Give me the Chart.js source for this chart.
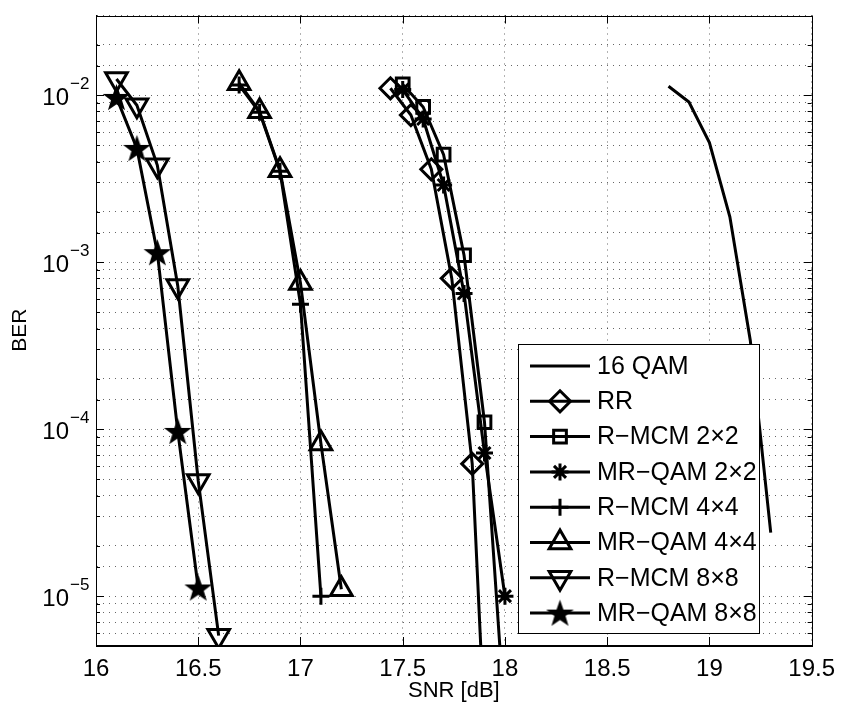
<!DOCTYPE html>
<html>
<head>
<meta charset="utf-8">
<script src="https://cdn.jsdelivr.net/npm/chart.js@4.4.1/dist/chart.umd.min.js"></script>
<style>
html, body { margin: 0; padding: 0; background: #fff; }
#wrap { width: 845px; height: 704px; position: relative; }
</style>
</head>
<body>
<div id="wrap"><canvas id="berChart"></canvas></div>
<script>
// values (SNR in dB, BER)
var snrQam = [18.8, 18.9, 19.0, 19.1, 19.2, 19.3];
var berQam = [1.13e-2, 9.1e-3, 5.2e-3, 1.87e-3, 3.4e-4, 2.4e-5];

var snrRR = [17.44, 17.54, 17.64, 17.74, 17.84, 17.94];
var berRR = [1.1e-2, 7.6e-3, 3.6e-3, 8.0e-4, 6.2e-5, 1.5e-7];

var snr2 = [17.5, 17.6, 17.7, 17.8, 17.9, 18.0];
var berRmcm2 = [1.16e-2, 8.5e-3, 4.4e-3, 1.1e-3, 1.1e-4, 1.8e-6];
var berMrqam2 = [1.08e-2, 7.2e-3, 2.9e-3, 6.5e-4, 7.2e-5, 1.0e-5];

var snrRmcm4 = [16.7, 16.8, 16.9, 17.0, 17.1];
var berRmcm4 = [1.15e-2, 7.9e-3, 3.5e-3, 5.6e-4, 1.0e-5];
var snrMrqam4 = [16.7, 16.8, 16.9, 17.0, 17.1, 17.2];
var berMrqam4 = [1.18e-2, 8.0e-3, 3.55e-3, 7.5e-4, 8.2e-5, 1.1e-5];

var snr8 = [16.1, 16.2, 16.3, 16.4, 16.5, 16.6];
var berRmcm8 = [1.25e-2, 8.7e-3, 3.8e-3, 7.2e-4, 4.9e-5, 5.8e-6];
var snrMrqam8 = [16.1, 16.2, 16.3, 16.4, 16.5];
var berMrqam8 = [9.7e-3, 4.8e-3, 1.14e-3, 9.7e-5, 1.12e-5];

var xTicks = [16, 16.5, 17, 17.5, 18, 18.5, 19, 19.5];
var yLabelPowers = [-2, -3, -4, -5];

var FONT = '"Liberation Sans", Arial, Helvetica, sans-serif';

// filled pentagram for the 8x8 MR-QAM marker
function makeStar(r) {
	var c = document.createElement('canvas');
	var s = Math.ceil(r * 2 + 6);
	c.width = s; c.height = s;
	var g = c.getContext('2d');
	g.beginPath();
	for (var i = 0; i < 10; i++) {
		var rr = (i % 2) ? r * 0.4 : r;
		var a = -Math.PI / 2 + i * Math.PI / 5;
		var px = s / 2 + rr * Math.cos(a), py = s / 2 + rr * Math.sin(a) + 1;
		if (i) g.lineTo(px, py); else g.moveTo(px, py);
	}
	g.closePath();
	g.fillStyle = '#000';
	g.fill();
	g.lineWidth = 2;
	g.strokeStyle = '#000';
	g.stroke();
	return c;
}
var pentagram = makeStar(11.5);

function series(label, xs, ys, style, radius, rotation) {
	return {
		label: label,
		data: xs.map(function (x, i) { return {x: x, y: ys[i]}; }),
		borderColor: '#000',
		backgroundColor: 'rgba(0,0,0,0)',
		borderWidth: 3,
		pointStyle: style || false,
		pointRadius: radius || 0,
		pointRotation: rotation || 0,
		pointBorderColor: '#000',
		pointBackgroundColor: 'rgba(0,0,0,0)',
		pointBorderWidth: 3,
		tension: 0,
		fill: false
	};
}

// legend box inside the axes, drawn on top of the curves
var boxLegend = {
	id: 'boxLegend',
	afterDatasetsDraw: function (chart) {
		var ctx = chart.ctx;
		ctx.save();
		ctx.fillStyle = '#fff';
		ctx.fillRect(518.5, 344.5, 241, 289);
		ctx.strokeStyle = '#000';
		ctx.lineWidth = 1;
		ctx.strokeRect(518.5, 344.5, 241, 289);
		chart.data.datasets.forEach(function (ds, i) {
			var y = 366 + i * 35.3;
			ctx.beginPath();
			ctx.moveTo(530, y);
			ctx.lineTo(590, y);
			ctx.lineWidth = 3;
			ctx.strokeStyle = '#000';
			ctx.stroke();
			if (ds.pointRadius) {
				ctx.fillStyle = 'rgba(0,0,0,0)';
				ctx.lineWidth = 3;
				Chart.helpers.drawPoint(ctx, {
					pointStyle: ds.pointStyle,
					rotation: ds.pointRotation,
					radius: ds.pointRadius,
					borderWidth: 3
				}, 560, y);
			}
			ctx.fillStyle = '#000';
			ctx.font = '25px ' + FONT;
			ctx.textBaseline = 'middle';
			ctx.textAlign = 'left';
			ctx.fillText(ds.label, 597, y + 1);
		});
		ctx.restore();
	}
};

// box, inward tick marks and 10^n labels
var frame = {
	id: 'frame',
	afterDraw: function (chart) {
		var ctx = chart.ctx, a = chart.chartArea;
		var ys = chart.scales.y, xs = chart.scales.x;
		ctx.save();
		ctx.strokeStyle = '#000';
		ctx.lineWidth = 1;
		ctx.strokeRect(Math.round(a.left) + 0.5, Math.round(a.top) + 0.5,
			Math.round(a.right - a.left), Math.round(a.bottom - a.top));
		ctx.beginPath();
		ys.ticks.forEach(function (t) {
			var lg = Math.log10(t.value);
			var len = Math.abs(lg - Math.round(lg)) < 1e-9 ? 8 : 4;
			var py = Math.round(ys.getPixelForValue(t.value)) + 0.5;
			ctx.moveTo(a.left, py); ctx.lineTo(a.left + len, py);
			ctx.moveTo(a.right, py); ctx.lineTo(a.right - len, py);
		});
		xs.ticks.forEach(function (t) {
			var px = Math.round(xs.getPixelForValue(t.value)) + 0.5;
			ctx.moveTo(px, a.bottom); ctx.lineTo(px, a.bottom - 8);
			ctx.moveTo(px, a.top); ctx.lineTo(px, a.top + 8);
		});
		ctx.stroke();

		ctx.fillStyle = '#000';
		yLabelPowers.forEach(function (p) {
			var py = ys.getPixelForValue(Math.pow(10, p));
			ctx.font = '24px ' + FONT;
			ctx.textAlign = 'right';
			ctx.textBaseline = 'alphabetic';
			ctx.fillText('10', 69, py + 10);
			ctx.font = '17px ' + FONT;
			ctx.textAlign = 'left';
			ctx.fillText('\u2212' + Math.abs(p), 70, py - 6);
		});
		ctx.restore();
	}
};

var ctx = document.getElementById('berChart');
var berChart = new Chart(ctx, {
	type: 'line',
	data: {
		datasets: [
			series('16 QAM', snrQam, berQam),
			series('RR', snrRR, berRR, 'rectRot', 10.5),
			series('R\u2212MCM 2\u00d72', snr2, berRmcm2, 'rect', 9),
			series('MR\u2212QAM 2\u00d72', snr2, berMrqam2, 'star', 8.5),
			series('R\u2212MCM 4\u00d74', snrRmcm4, berRmcm4, 'cross', 8.5),
			series('MR\u2212QAM 4\u00d74', snrMrqam4, berMrqam4, 'triangle', 12.5),
			series('R\u2212MCM 8\u00d78', snr8, berRmcm8, 'triangle', 12.5, 180),
			series('MR\u2212QAM 8\u00d78', snrMrqam8, berMrqam8, pentagram, 12)
		]
	},
	options: {
		responsive: true,
		maintainAspectRatio: false,
		animation: false,
		events: [],
		layout: {
			padding: {left: 0, right: 26, top: 14, bottom: 0}
		},
		scales: {
			x: {
				type: 'linear',
				min: 16,
				max: 19.5,
				afterBuildTicks: function (scale) {
					scale.ticks = xTicks.map(function (v) { return {value: v}; });
				},
				afterFit: function (scale) { scale.height = 59; },
				grid: {
					color: 'rgba(0,0,0,0.6)',
					lineWidth: 1,
					drawTicks: false
				},
				border: {display: true, color: '#000', width: 1, dash: [1, 5]},
				ticks: {
					color: '#000',
					padding: 10,
					maxRotation: 0,
					autoSkip: false,
					font: {family: FONT, size: 24},
					callback: function (v) { return String(v); }
				},
				title: {
					display: true,
					text: 'SNR [dB]',
					color: '#000',
					font: {family: FONT, size: 22},
					padding: {top: 0, bottom: 0}
				}
			},
			y: {
				type: 'logarithmic',
				min: 5.1e-6,
				max: 3e-2,
				afterFit: function (scale) { scale.width = 96; },
				grid: {
					color: 'rgba(0,0,0,0.6)',
					lineWidth: 1,
					drawTicks: false
				},
				border: {display: true, color: '#000', width: 1, dash: [1, 5]},
				ticks: {display: false},
				title: {
					display: true,
					text: 'BER',
					color: '#000',
					font: {family: FONT, size: 21},
					padding: {top: 8, bottom: 0}
				}
			}
		},
		plugins: {
			legend: {display: false},
			tooltip: {enabled: false}
		}
	},
	plugins: [boxLegend, frame]
});
</script>
</body>
</html>
